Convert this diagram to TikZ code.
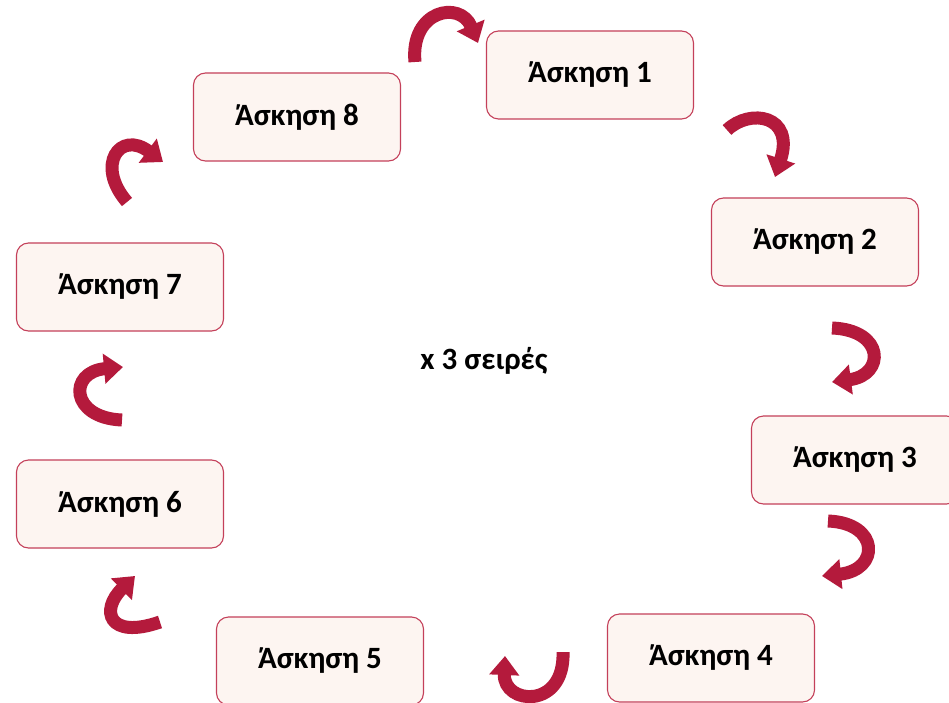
\documentclass[tikz,border=0pt]{standalone}
\usepackage{fontspec}
\setmainfont{Carlito}
\usetikzlibrary{arrows.meta}
\definecolor{boxfill}{RGB}{253,245,241}
\definecolor{boxline}{RGB}{196,64,90}
\definecolor{arrowred}{RGB}{180,26,60}
\tikzset{
  exbox/.style={draw=boxline, line width=1.1pt, fill=boxfill, rounded corners=12pt,
    minimum width=207pt, minimum height=88pt, inner sep=0pt,
    font=\fontsize{31}{36}\selectfont\bfseries},
  curvearrow/.style={draw=arrowred, line width=13pt, line cap=butt,
    -{Triangle[width=29pt,length=19pt]}},
  centerlabel/.style={font=\fontsize{31}{36}\selectfont\bfseries}
}
\begin{document}
\begin{tikzpicture}[x=1pt,y=-1pt]
\useasboundingbox (0,0) rectangle (949,703);
\fill[white] (0,0) rectangle (949,703);
\node[exbox] (e1) at (590,75) {Άσκηση 1};
\node[exbox] (e2) at (815,242) {Άσκηση 2};
\node[exbox] (e3) at (855,460) {Άσκηση 3};
\node[exbox] (e4) at (711,658) {Άσκηση 4};
\node[exbox] (e5) at (320,661) {Άσκηση 5};
\node[exbox] (e6) at (120,504) {Άσκηση 6};
\node[exbox] (e7) at (120,287) {Άσκηση 7};
\node[exbox] (e8) at (297,117) {Άσκηση 8};
\node[centerlabel] (c) at (484,361) {x 3 σειρές};
% arrow end points
\coordinate (a81s) at (415,62);  \coordinate (a81e) at (478,43);
\coordinate (a12s) at (727,130); \coordinate (a12e) at (775,177);
\coordinate (a23s) at (832,328); \coordinate (a23e) at (832,382);
\coordinate (a34s) at (828,521); \coordinate (a34e) at (822,576);
\coordinate (a45s) at (563,652); \coordinate (a45e) at (505,656);
\coordinate (a56s) at (160,622); \coordinate (a56e) at (135,576);
\coordinate (a67s) at (122,420); \coordinate (a67e) at (123,367);
\coordinate (a78s) at (127,202); \coordinate (a78e) at (163,162);
\draw[curvearrow] (a81s) .. controls (410,10) and (460,0) .. (a81e);
\draw[curvearrow] (a12s) .. controls (750,108) and (795,115) .. (a12e);
\draw[curvearrow] (a23s) .. controls (885,330) and (885,375) .. (a23e);
\draw[curvearrow] (a34s) .. controls (880,523) and (880,570) .. (a34e);
\draw[curvearrow] (a45s) .. controls (565,710) and (503,705) .. (a45e);
\draw[curvearrow] (a56s) .. controls (108,640) and (100,610) .. (a56e);
\draw[curvearrow] (a67s) .. controls (70,418) and (68,372) .. (a67e);
\draw[curvearrow] (a78s) .. controls (95,165) and (120,130) .. (a78e);
\end{tikzpicture}
\end{document}
